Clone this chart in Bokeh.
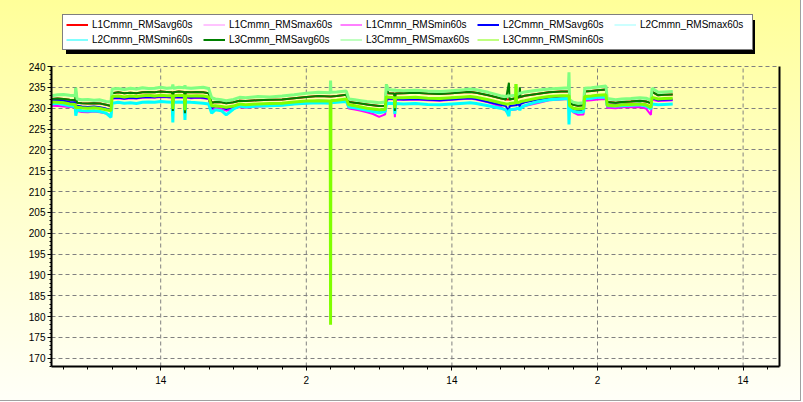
from bokeh.plotting import figure
from bokeh.models import FixedTicker, LinearAxis, Legend, LegendItem, Range1d
from bokeh.embed import file_html
from bokeh.resources import INLINE

# time in hours since midnight of day 1
hours = [
    5.0, 5.5, 6.0, 6.5, 6.95, 7.0, 7.1, 7.5, 8.0, 8.5, 9.0, 9.5, 9.9,
    10.0, 10.5, 11.0, 11.5, 12.0, 12.5, 13.0, 13.5, 14.0, 14.5, 14.95, 15.0, 15.05, 15.5, 15.95, 16.0, 16.05, 16.5, 17.0, 17.5, 17.95,
    18.2, 18.5, 19.0, 19.4, 20.0, 20.5, 21.0, 22.0, 23.0, 24.0, 25.0, 26.0, 27.0, 27.97, 28.0, 28.03, 28.5, 29.3, 29.5, 30.0, 30.5, 31.0, 31.5, 32.0, 32.5,
    32.6, 32.75, 33.25, 33.3, 33.35, 34.0, 35.0, 36.0, 37.0, 38.0, 39.0, 39.5, 40.0, 41.0, 42.0, 42.45, 42.7, 42.75, 43.25, 43.28, 43.33, 43.55, 43.6, 43.65, 44.0,
    45.0, 46.0, 47.0, 47.6, 47.65, 47.7, 48.0, 48.4, 48.85, 48.95, 49.5, 50.0, 50.7, 50.8, 51.5, 52.0, 52.75, 53.5, 54.0, 54.4, 54.5, 55.0, 55.5, 56.2,
]

L1_avg = [
    232.2, 232.3, 232.2, 232.0, 231.9, 231.5, 231.3, 231.2, 231.1, 231.2, 231.1, 230.8, 230.5,
    233.6, 233.8, 233.6, 233.7, 233.6, 233.8, 233.9, 233.8, 234.0, 233.9, 233.8, 231.0, 233.8, 234.0, 233.9, 230.8, 233.9, 233.8, 233.9, 233.8, 233.6,
    231.3, 231.5, 231.4, 231.2, 231.4, 231.8, 231.7, 231.9, 232.0, 232.1, 232.4, 232.7, 232.9, 232.8, 232.8, 232.8, 232.9, 233.2, 231.5, 231.3, 231.1, 230.9, 230.7, 230.5, 230.6,
    233.6, 233.6, 233.5, 231.0, 233.5, 233.6, 233.7, 233.5, 233.4, 233.6, 233.8, 233.9, 233.7, 233.1, 232.4, 232.1, 232.1, 232.1, 232.4, 232.5, 232.5, 232.6, 232.6, 232.7, 233.0,
    233.4, 233.8, 234.0, 234.0, 234.0, 231.4, 230.8, 230.6, 230.7, 234.0, 234.1, 234.3, 234.5, 231.5, 231.3, 231.5, 231.6, 231.8, 231.6, 231.2, 233.9, 233.1, 233.2, 233.3,
]
L1_max = [
    232.9, 233.1, 233.2, 233.0, 232.9, 233.6, 232.1, 231.9, 232.0, 231.8, 231.9, 231.5, 231.4,
    234.5, 234.6, 234.4, 234.7, 234.5, 234.8, 234.6, 234.7, 234.9, 234.7, 234.8, 234.8, 234.7, 234.9, 234.8, 234.7, 234.8, 234.7, 234.8, 234.9, 234.6,
    232.4, 232.1, 231.9, 231.7, 232.0, 232.5, 232.4, 232.7, 232.6, 232.8, 233.1, 233.5, 233.7, 233.6, 233.7, 233.7, 233.8, 234.0, 232.1, 231.9, 231.7, 231.5, 231.4, 231.2, 231.4,
    234.8, 234.4, 234.2, 234.3, 234.2, 234.1, 234.2, 234.0, 233.9, 234.1, 234.3, 234.5, 234.3, 233.7, 232.9, 232.7, 232.9, 232.8, 233.0, 233.2, 233.2, 233.4, 233.5, 233.5, 233.8,
    234.2, 234.5, 234.7, 234.8, 234.8, 231.9, 231.3, 231.1, 231.2, 234.7, 234.8, 235.0, 235.2, 232.2, 231.9, 232.1, 232.2, 232.4, 232.3, 231.8, 234.7, 233.7, 233.8, 233.9,
]
L1_min = [
    230.6, 230.5, 230.4, 230.3, 230.2, 229.5, 229.3, 229.1, 229.0, 229.2, 229.0, 228.7, 228.3,
    232.3, 232.4, 232.2, 232.4, 232.3, 232.5, 232.6, 232.5, 232.7, 232.6, 232.5, 228.5, 232.5, 232.6, 232.5, 228.6, 232.6, 232.4, 232.5, 232.4, 232.2,
    229.6, 230.0, 229.8, 229.4, 229.9, 230.3, 230.1, 230.4, 230.5, 230.7, 231.0, 231.2, 231.4, 231.3, 231.2, 231.4, 231.5, 231.7, 229.9, 229.7, 229.4, 229.0, 228.6, 227.9, 228.5,
    231.5, 232.2, 232.1, 227.8, 232.1, 232.0, 232.1, 231.9, 231.8, 232.0, 232.2, 232.3, 232.1, 231.4, 230.4, 229.3, 228.9, 229.5, 229.7, 229.7, 229.8, 229.8, 229.8, 230.2, 230.5,
    231.2, 231.9, 232.1, 232.2, 232.0, 229.8, 229.0, 228.4, 228.5, 231.8, 231.9, 232.1, 232.2, 230.1, 230.0, 230.2, 230.2, 230.3, 229.9, 228.4, 232.0, 231.7, 231.8, 231.9,
]
L2_avg = [
    231.9, 232.0, 231.8, 231.5, 231.4, 229.8, 230.6, 230.4, 230.3, 230.4, 230.2, 229.9, 229.5,
    232.4, 232.5, 232.3, 232.5, 232.4, 232.6, 232.7, 232.6, 232.8, 232.7, 232.6, 228.0, 232.6, 232.7, 232.6, 228.3, 232.7, 232.5, 232.6, 232.5, 232.3,
    230.0, 230.5, 230.3, 229.8, 230.4, 230.8, 230.7, 230.9, 231.0, 231.1, 231.4, 231.6, 231.8, 231.7, 231.7, 231.8, 231.9, 232.1, 230.6, 230.4, 230.2, 229.9, 229.6, 229.3, 229.5,
    232.0, 232.3, 232.2, 229.3, 232.2, 232.1, 232.2, 232.0, 231.9, 232.1, 232.3, 232.4, 232.2, 231.5, 230.8, 230.5, 229.0, 230.5, 230.7, 230.6, 230.8, 230.9, 230.0, 231.0, 231.4,
    232.0, 232.5, 232.8, 232.8, 232.8, 230.3, 229.8, 229.5, 229.6, 232.6, 232.8, 233.0, 233.1, 230.9, 230.8, 230.9, 231.0, 231.1, 230.8, 230.3, 232.4, 231.9, 232.0, 232.1,
]
L2_max = [
    232.8, 233.0, 233.1, 232.9, 232.8, 233.5, 232.0, 231.8, 231.9, 231.7, 231.8, 231.4, 231.3,
    234.4, 234.5, 234.3, 234.6, 234.4, 234.7, 234.5, 234.6, 234.8, 234.6, 234.7, 234.9, 234.6, 234.8, 234.7, 234.8, 234.7, 234.6, 234.7, 234.8, 234.5,
    232.3, 232.0, 231.8, 231.6, 231.9, 232.5, 232.5, 232.8, 232.7, 232.9, 233.2, 233.6, 233.7, 233.6, 233.7, 233.7, 233.8, 234.0, 232.0, 231.8, 231.6, 231.4, 231.3, 231.1, 231.3,
    234.9, 234.3, 234.1, 234.1, 234.1, 234.0, 234.1, 233.9, 233.8, 234.0, 234.2, 234.4, 234.2, 233.6, 232.8, 232.6, 232.8, 232.7, 232.9, 233.1, 233.1, 233.3, 233.4, 233.4, 233.7,
    234.1, 234.4, 234.6, 234.7, 234.8, 231.8, 231.2, 231.0, 231.1, 234.6, 234.7, 234.9, 235.1, 232.1, 231.8, 232.0, 232.1, 232.3, 232.2, 231.7, 234.6, 233.6, 233.7, 233.8,
]
L2_min = [
    231.0, 231.2, 230.9, 230.6, 230.4, 228.2, 229.6, 229.4, 229.3, 229.4, 229.2, 228.8, 227.8,
    231.2, 231.4, 231.2, 231.3, 231.1, 231.4, 231.5, 231.4, 231.6, 231.5, 231.4, 226.6, 231.4, 231.5, 231.4, 227.2, 231.5, 231.4, 231.3, 231.2, 231.0,
    228.8, 229.6, 229.4, 228.4, 229.8, 230.5, 230.3, 230.5, 230.6, 230.7, 231.0, 231.2, 231.3, 231.2, 231.0, 231.3, 231.4, 231.6, 230.3, 230.1, 229.8, 229.5, 229.2, 228.9, 229.2,
    231.0, 231.2, 231.1, 228.6, 231.1, 231.0, 231.1, 230.9, 230.8, 231.0, 231.2, 231.3, 231.1, 230.6, 230.0, 229.6, 228.1, 229.6, 229.8, 229.8, 229.9, 230.0, 229.5, 230.0, 230.6,
    231.5, 232.0, 232.2, 232.3, 226.1, 229.8, 229.2, 229.0, 229.1, 232.3, 232.4, 232.6, 232.7, 230.6, 230.5, 230.6, 230.7, 230.8, 230.5, 229.8, 231.0, 230.8, 230.9, 231.0,
]
L3_avg = [
    232.2, 232.3, 232.2, 232.0, 231.9, 234.9, 231.3, 231.2, 231.1, 231.2, 231.1, 230.8, 230.5,
    233.6, 233.8, 233.6, 233.7, 233.6, 233.8, 233.9, 233.8, 234.0, 233.9, 233.8, 229.3, 233.8, 234.0, 233.9, 228.8, 233.9, 233.8, 233.9, 233.8, 233.6,
    231.3, 231.5, 231.4, 231.2, 231.4, 231.8, 231.7, 231.9, 232.0, 232.1, 232.4, 232.7, 232.9, 232.8, 232.8, 232.8, 232.9, 233.2, 231.5, 231.3, 231.1, 230.9, 230.7, 230.5, 230.6,
    235.7, 233.6, 233.5, 229.3, 233.5, 233.6, 233.7, 233.5, 233.4, 233.6, 233.8, 233.9, 233.7, 233.1, 232.4, 232.1, 236.1, 232.1, 232.4, 232.5, 232.5, 232.6, 235.0, 232.7, 233.0,
    233.4, 233.8, 234.0, 234.0, 234.0, 231.4, 230.8, 230.6, 230.7, 234.0, 234.1, 234.3, 234.5, 231.5, 231.3, 231.5, 231.6, 231.8, 231.6, 231.2, 233.9, 233.1, 233.2, 233.3,
]
L3_max = [
    233.0, 233.2, 233.3, 233.1, 233.0, 234.9, 232.2, 232.0, 232.1, 231.9, 232.0, 231.6, 231.5,
    234.6, 234.7, 234.5, 234.8, 234.6, 234.9, 234.7, 234.8, 235.0, 234.8, 234.9, 235.7, 234.8, 235.0, 234.9, 235.5, 234.9, 234.8, 234.9, 235.0, 234.7,
    232.5, 232.2, 232.0, 231.8, 232.1, 232.6, 232.5, 232.8, 232.7, 232.9, 233.2, 233.6, 233.8, 233.7, 236.6, 233.8, 233.9, 234.1, 232.2, 232.0, 231.8, 231.6, 231.5, 231.3, 231.5,
    235.7, 234.5, 234.3, 234.4, 234.3, 234.2, 234.3, 234.1, 234.0, 234.2, 234.4, 234.6, 234.4, 233.8, 233.0, 232.8, 233.0, 232.9, 233.1, 235.8, 233.3, 233.5, 233.6, 233.6, 233.9,
    234.3, 234.6, 234.8, 234.9, 238.6, 232.0, 231.4, 231.2, 231.3, 234.8, 234.9, 235.1, 235.3, 232.3, 232.0, 232.2, 232.3, 232.5, 232.4, 231.9, 234.8, 233.8, 233.9, 234.0,
]
L3_min = [
    231.5, 231.4, 231.3, 231.0, 230.9, 230.0, 230.2, 230.1, 230.0, 230.1, 229.9, 229.6, 229.4,
    232.8, 232.9, 232.7, 232.9, 232.8, 233.0, 233.1, 232.9, 233.1, 233.0, 233.0, 229.8, 232.9, 233.1, 233.0, 229.5, 233.0, 232.9, 233.0, 232.9, 232.7,
    230.5, 230.6, 230.4, 230.2, 230.5, 231.0, 230.8, 231.0, 231.1, 231.2, 231.5, 231.7, 231.8, 231.7, 178.0, 231.8, 231.9, 232.2, 230.8, 230.6, 230.3, 230.0, 229.8, 229.6, 229.7,
    232.8, 232.6, 232.5, 230.0, 232.5, 232.5, 232.6, 232.4, 232.3, 232.5, 232.7, 232.8, 232.6, 232.0, 231.3, 231.0, 231.0, 231.1, 231.3, 235.8, 231.3, 231.4, 231.4, 231.6, 231.8,
    232.4, 232.8, 233.0, 233.0, 233.0, 230.6, 230.0, 229.8, 229.9, 232.8, 232.9, 233.1, 233.2, 230.7, 230.6, 230.8, 230.9, 231.0, 230.8, 230.2, 232.6, 232.2, 232.3, 232.4,
]

series_names = ["L1Cmmn_RMSavg60s", "L1Cmmn_RMSmax60s", "L1Cmmn_RMSmin60s",
                "L2Cmmn_RMSavg60s", "L2Cmmn_RMSmax60s", "L2Cmmn_RMSmin60s",
                "L3Cmmn_RMSavg60s", "L3Cmmn_RMSmax60s", "L3Cmmn_RMSmin60s"]
series_values = [L1_avg, L1_max, L1_min, L2_avg, L2_max, L2_min, L3_avg, L3_max, L3_min]
series_colors = ["#ff0000", "#ff88ff", "#ff00ff", "#0000ff", "#99ffff", "#00ffff",
                 "#008000", "#80ff80", "#80ff00"]
series_widths = [2, 1, 2, 2, 1, 3, 2, 3, 3]
legend_widths = [2, 1, 1, 2, 1, 1, 2, 1, 1]

x_tick_positions = [14, 26, 38, 50, 62]
x_tick_labels = ["14", "2", "14", "2", "14"]
y_tick_positions = [170, 175, 180, 185, 190, 195, 200, 205, 210, 215, 220, 225, 230, 235, 240]

X_MIN, X_MAX = 5, 65
Y_MIN, Y_MAX = 168, 240
Y_TOP = 253.44          # frame extends above 240 to host the legend

FONT = "Liberation Sans"

# legend box (page px): left 62, top 16, 689 x 34 -> black drop shadow offset by 4 px
bg = ", ".join([
    "linear-gradient(#000,#000) 66px 20px / 689px 34px no-repeat",
    "linear-gradient(#a0a0a0,#a0a0a0) 0px 400px / 801px 1px no-repeat",
    "linear-gradient(#a0a0a0,#a0a0a0) 800px 0px / 1px 401px no-repeat",
    "linear-gradient(to bottom, #ffff99 0%, #ffffcc 50%, #fffff8 100%)",
])

p = figure(width=801, height=401, x_range=Range1d(X_MIN, X_MAX), y_range=Range1d(Y_MIN, Y_TOP),
           output_backend="svg", toolbar_location=None,
           min_border_left=51, min_border_right=22, min_border_top=10, min_border_bottom=35,
           background_fill_color=None, border_fill_color=None, outline_line_color=None)
p.styles = {"background": bg}

xt = FixedTicker(ticks=x_tick_positions, minor_ticks=list(range(6, 65, 2)))
yt = FixedTicker(ticks=y_tick_positions, minor_ticks=list(range(Y_MIN, Y_MAX + 1)))
p.xaxis.ticker = xt
p.yaxis.ticker = yt
p.xaxis.major_label_overrides = dict(zip(x_tick_positions, x_tick_labels))
p.yaxis.bounds = (Y_MIN, Y_MAX)

for ax in (p.xaxis[0], p.yaxis[0]):
    ax.axis_line_color = "black"
    ax.axis_line_width = 2
    ax.major_tick_line_color = "black"
    ax.minor_tick_line_color = "black"
    ax.major_tick_in = 0
    ax.minor_tick_in = 0
    ax.major_label_text_font = FONT
    ax.major_label_text_font_size = "10px"
    ax.major_label_text_color = "black"
p.xaxis.major_tick_out = 4
p.xaxis.minor_tick_out = 3
p.xaxis.major_label_standoff = 5
p.yaxis.major_tick_out = 4
p.yaxis.minor_tick_out = 2
p.yaxis.major_label_standoff = 2

right = LinearAxis(ticker=FixedTicker(ticks=[]), axis_line_color="black", axis_line_width=2,
                   major_tick_out=0, major_tick_in=0, minor_tick_out=0, minor_tick_in=0,
                   major_label_text_font_size="0px", bounds=(Y_MIN, Y_MAX))
p.add_layout(right, "right")

p.xgrid.visible = False
p.ygrid.ticker = yt
p.ygrid.grid_line_color = "#808080"
p.ygrid.grid_line_dash = "4 3"
p.ygrid.grid_line_width = 1
# vertical grid lines limited to the value range
p.segment(x0=x_tick_positions, y0=[Y_MIN] * len(x_tick_positions),
          x1=x_tick_positions, y1=[Y_MAX] * len(x_tick_positions),
          line_color="#808080", line_dash="4 3", line_width=1)

items = []
for name, vals, col, w, lw in zip(series_names, series_values, series_colors,
                                  series_widths, legend_widths):
    p.line(hours, vals, line_color=col, line_width=w)
    # single-point proxy (draws nothing in the plot) so the legend sample keeps a thin stroke
    proxy = p.line(hours[:1], vals[:1], line_color=col, line_width=lw)
    items.append(LegendItem(label=name, renderers=[proxy]))

legend = Legend(items=items, location=(11, 316), orientation="horizontal", ncols=5,
                padding=3, spacing=2, margin=0,
                glyph_width=22, glyph_height=13, label_height=13, label_width=109,
                label_standoff=4, label_text_font=FONT, label_text_font_size="10px",
                label_text_color="black",
                border_line_color="black", border_line_width=1,
                background_fill_color="white", background_fill_alpha=1.0)
p.add_layout(legend, "center")

open("out.html", "w").write(file_html(p, INLINE))
